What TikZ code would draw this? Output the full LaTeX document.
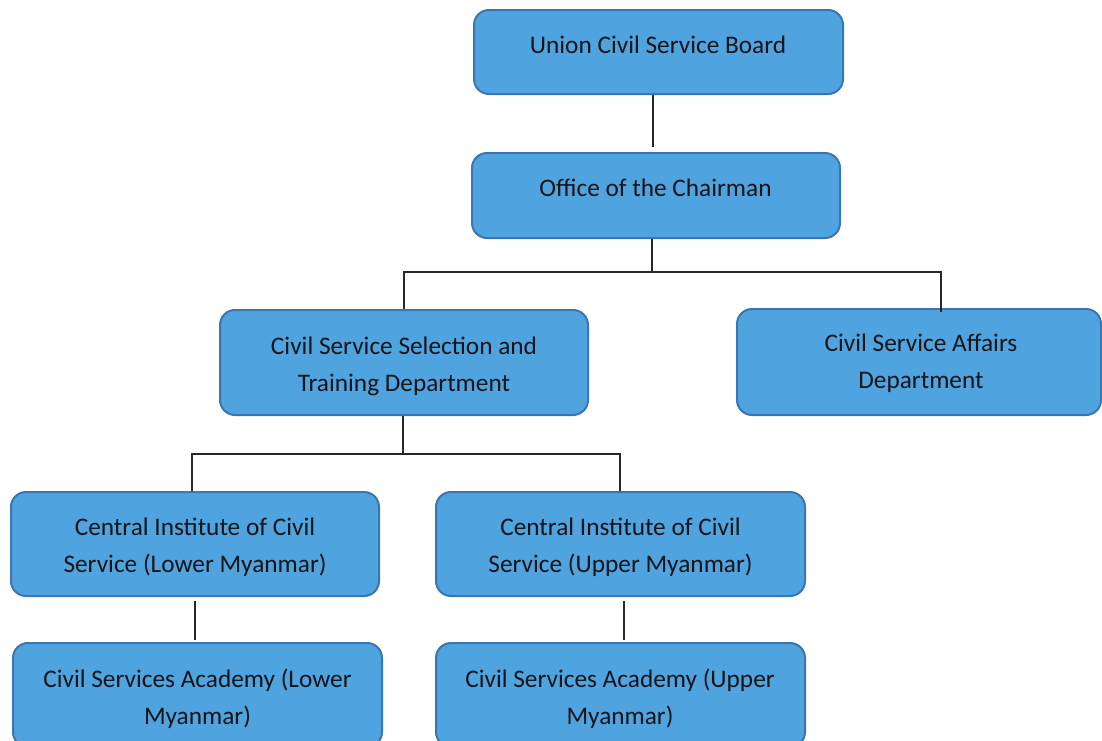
\documentclass[tikz,border=0pt]{standalone}
\usepackage{fontspec}
\setmainfont{Carlito}
\definecolor{boxfill}{RGB}{79,163,223}
\definecolor{boxline}{RGB}{58,118,178}
\definecolor{txtcol}{RGB}{20,20,25}
\definecolor{linecol}{RGB}{40,40,40}
\begin{document}
\begin{tikzpicture}[x=1pt,y=-1pt,
  box/.style={draw=boxline, fill=boxfill, line width=2pt, rounded corners=15pt,
    minimum width=368pt, minimum height=104pt, inner sep=0pt, rectangle},
  lbl/.style={text=txtcol, align=center, font=\fontsize{25.3}{36.5}\selectfont,
    text height=18pt, text depth=6pt, inner sep=0pt},
  conn/.style={draw=linecol, line width=1.3pt}]
\useasboundingbox (0,0) rectangle (1102,740);
\fill[white] (0,0) rectangle (1102,740);

% boxes
\node[box, minimum width=369pt, minimum height=84pt] (ucsb) at (658.5,52) {};
\node[box, minimum height=85pt] (office) at (656,195.5) {};
\node[box, minimum height=105pt] (csstd) at (404,362.5) {};
\node[box, minimum width=364pt, minimum height=106pt] (csad) at (919,362) {};
\node[box] (cicsl) at (195,544) {};
\node[box, minimum width=369pt] (cicsu) at (620.5,544) {};
\node[box, minimum width=369pt] (acadl) at (197.5,695) {};
\node[box, minimum width=369pt] (acadu) at (620.5,695) {};

% texts (y = centre of the last line)
\node[lbl] (ucsb-t) at (658,47) {Union Civil Service Board};
\node[lbl] (office-t) at (655.5,190) {Office of the Chairman};
\node[lbl] (csstd-t) at (404,385) {Civil Service Selection and\\Training Department};
\node[lbl] (csad-t) at (921,382) {Civil Service Affairs\\Department};
\node[lbl] (cicsl-t) at (195,566) {Central Institute of Civil\\Service (Lower Myanmar)};
\node[lbl] (cicsu-t) at (620.5,566) {Central Institute of Civil\\Service (Upper Myanmar)};
\node[lbl] (acadl-t) at (197.5,718) {Civil Services Academy (Lower\\Myanmar)};
\node[lbl] (acadu-t) at (620,718) {Civil Services Academy (Upper\\Myanmar)};

% connectors
\draw[conn, shorten >=5pt] ([xshift=-5.5pt]ucsb.south) -- ([xshift=-3pt]office.north);
\draw[conn] ([xshift=-4pt]office.south) -- ++(0,33) coordinate (j1);
\draw[conn] (csstd.north) |- (j1) -| ([xshift=22pt,yshift=-4pt]csad.north);
\draw[conn] ([xshift=-1pt]csstd.south) -- ++(0,38) coordinate (j2);
\draw[conn] ([xshift=-3pt]cicsl.north) |- (j2) -| ([xshift=-0.5pt]cicsu.north);
\draw[conn, shorten <=4pt, shorten >=2pt] (cicsl.south) -- ([xshift=-2.5pt]acadl.north);
\draw[conn, shorten <=4pt, shorten >=2pt] ([xshift=3.5pt]cicsu.south) -- ([xshift=3.5pt]acadu.north);
\end{tikzpicture}
\end{document}
